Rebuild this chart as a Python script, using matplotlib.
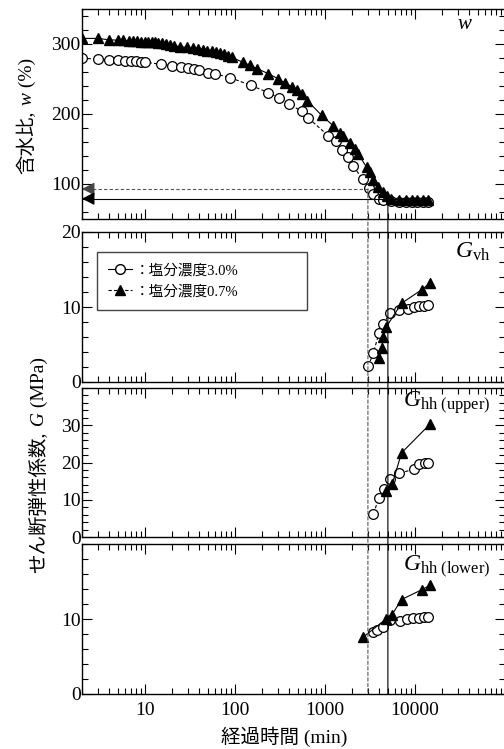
import numpy as np
import matplotlib
matplotlib.use('Agg')
import matplotlib.pyplot as plt
from matplotlib.ticker import MultipleLocator, LogLocator, NullFormatter
from matplotlib.lines import Line2D
from matplotlib.patches import ConnectionPatch

plt.rcParams['font.family'] = ['Liberation Serif', 'Noto Sans CJK JP']
plt.rcParams['mathtext.fontset'] = 'custom'
plt.rcParams['mathtext.rm'] = 'Liberation Serif'
plt.rcParams['mathtext.it'] = 'Liberation Serif:italic'
plt.rcParams['font.size'] = 14

# water content, salt 3.0 % (open circles)
t_w30 = [2, 3, 4, 5, 6, 7, 8, 9, 10, 15, 20, 25, 30, 35, 40, 50, 60,
         88, 150, 235, 312, 402, 550, 650,
         1090, 1320, 1560, 1790, 2060, 2620, 3080, 3390, 3980, 4440,
         5370, 6690, 7940, 9190, 10440, 12200, 14070]
w30 = [280, 278, 277.5, 276.5, 276, 275.5, 275, 274.5, 274,
       271, 269, 267, 265.5, 264, 262.5, 259, 257.5,
       252, 241, 230.5, 222.5, 214, 204, 194.5,
       169, 162, 149, 138, 126, 106.5, 94.5, 85.5, 78.5, 77,
       75.5, 74.5, 74.5, 74.5, 74.5, 74.5, 74.5]

# water content, salt 0.7 % (filled triangles)
t_w07 = [2, 3, 4, 5, 5.7, 6.6, 7.4, 8.2, 9, 10,
         10.9, 11.9, 12.9, 14, 15.3, 17.1, 18.9, 21,
         24.5, 29, 34, 39, 44, 49, 55, 61, 68, 75, 84, 92,
         122, 147, 177, 234, 298, 359, 427, 485, 551, 638,
         920, 1240, 1460, 1590, 1890, 2150, 2340, 2900, 3160, 3440, 3910, 4440, 4850,
         5400, 6700, 8000, 9200, 10500, 12200, 14000]
w07 = [308, 308, 306, 305.5, 305, 304.5, 304, 303.7, 303.5, 303.2,
       303, 302.8, 302.3, 301.8, 301.4, 300, 298.6, 297.2,
       296.2, 295.2, 294.4, 293.4, 292, 290.6, 289.6, 288.2, 286.8, 285, 282.5, 281,
       274, 269.4, 264.8, 257.7, 250.7, 244.5, 238.9, 234.2, 228, 219,
       198, 183, 173, 168, 159, 150, 143, 124, 117, 105, 96, 88, 83,
       78, 77.5, 77.5, 77, 77, 77, 77.5]

# end of consolidation (time, w)
t_end30, w_end30 = 3000, 93
t_end07, w_end07 = 5000, 79

# Gvh
t_gvh30 = [3030, 3450, 3980, 4440, 5270, 6690, 8440, 9750, 11150, 12590, 14070]
gvh30 = [2.1, 3.9, 6.5, 7.7, 9.2, 9.6, 9.8, 10.0, 10.1, 10.2, 10.3]
t_gvh07 = [4010, 4270, 4440, 4770, 7100, 11880, 14680]
gvh07 = [3.2, 4.5, 6.0, 7.3, 10.5, 12.3, 13.2]

# Ghh (upper)
t_ghu30 = [3450, 4010, 4570, 5270, 6690, 9750, 11150, 12900, 14070]
ghu30 = [6.3, 10.6, 13.0, 15.6, 17.1, 18.2, 19.6, 19.8, 19.8]
t_ghu07 = [4770, 5570, 7100, 14680]
ghu07 = [12.3, 14.1, 22.6, 30.3]

# Ghh (lower)
t_ghl30 = [3390, 3830, 4440, 5270, 6810, 8200, 9550, 11150, 12590, 14070]
ghl30 = [8.3, 8.6, 8.9, 9.9, 9.8, 10.0, 10.1, 10.2, 10.3, 10.3]
t_ghl07 = [2670, 4770, 5570, 7100, 11880, 14680]
ghl07 = [7.6, 10.0, 10.6, 12.6, 13.9, 14.5]

W, H = 504, 749
fig = plt.figure(figsize=(W / 100, H / 100), dpi=100)


def pos(top, bot):
    return [82 / W, 1 - bot / H, 423 / W, (bot - top) / H]


ax1 = fig.add_axes(pos(9, 219))
ax2 = fig.add_axes(pos(232, 382))
ax3 = fig.add_axes(pos(388, 537))
ax4 = fig.add_axes(pos(544, 694))
axes = [ax1, ax2, ax3, ax4]

DASH = (0, (3, 2))
circ = dict(color='k', lw=0.8, ls=DASH, marker='o', ms=7, mfc='white', mec='k', mew=0.9)
tri = dict(color='k', lw=0.8, ls='-', marker='^', ms=6.5, mfc='k', mec='k')

ax1.plot(t_w30, w30, **circ)
ax1.plot(t_w07, w07, **tri)
ax2.plot(t_gvh30, gvh30, **circ)
ax2.plot(t_gvh07, gvh07, **tri)
ax3.plot(t_ghu30, ghu30, **circ)
ax3.plot(t_ghu07, ghu07, **tri)
ax4.plot(t_ghl30, ghl30, **circ)
ax4.plot(t_ghl07, ghl07, **tri)

for ax in axes:
    ax.set_xscale('log')
    ax.set_xlim(2, 1e5)
    ax.xaxis.set_major_locator(LogLocator(base=10, numticks=10))
    ax.xaxis.set_minor_locator(LogLocator(base=10, subs=np.arange(2, 10), numticks=20))
    ax.xaxis.set_minor_formatter(NullFormatter())
    ax.tick_params(which='both', direction='in', top=True, right=True, width=0.8,
                   labelbottom=False, labelsize=14)
    ax.tick_params(which='major', length=7)
    ax.tick_params(which='minor', length=4)
    ax.tick_params(axis='y', pad=1)
    for s in ax.spines.values():
        s.set_linewidth(1.0)

ax4.set_xticks([10, 100, 1000, 10000], ['10', '100', '1000', '10000'])
ax4.tick_params(axis='x', labelbottom=True, pad=6)

ax1.set_ylim(50, 350)
ax1.set_yticks([100, 200, 300])
ax1.yaxis.set_minor_locator(MultipleLocator(20))
ax2.set_ylim(0, 20)
ax2.set_yticks([0, 10, 20])
ax3.set_ylim(0, 40)
ax3.set_yticks([0, 10, 20, 30])
ax4.set_ylim(0, 20)
ax4.set_yticks([0, 10])
for ax in axes[1:]:
    ax.yaxis.set_minor_locator(MultipleLocator(2))

# end-of-consolidation guide lines
ax1.plot([t_end30, 2], [w_end30, w_end30], color='#555555', lw=0.8, ls=DASH)
ax1.plot([t_end07, 2], [w_end07, w_end07], color='k', lw=0.8)
for w_e, c in [(w_end30, '#444444'), (w_end07, 'k')]:
    ax1.annotate('', xy=(2, w_e), xytext=(2.6, w_e),
                 arrowprops=dict(arrowstyle='-|>,head_length=0.55,head_width=0.28',
                                 color=c, lw=0.8, mutation_scale=14, shrinkA=0, shrinkB=0))
fig.add_artist(ConnectionPatch(xyA=(t_end30, w_end30), coordsA=ax1.transData,
                               xyB=(t_end30, 0), coordsB=ax4.transData,
                               color='#555555', lw=0.8, ls=DASH))
fig.add_artist(ConnectionPatch(xyA=(t_end07, w_end07), coordsA=ax1.transData,
                               xyB=(t_end07, 0), coordsB=ax4.transData,
                               color='k', lw=0.8))

# panel names
ax1.text(0.924, 0.924, r'$w$', transform=ax1.transAxes, ha='right', va='center', fontsize=15)
ax2.text(0.965, 0.867, r'$G_{\mathrm{vh}}$', transform=ax2.transAxes, ha='right', va='center', fontsize=17)
ax3.text(0.965, 0.9, r'$G_{\mathrm{hh\ (upper)}}$', transform=ax3.transAxes, ha='right', va='center', fontsize=17)
ax4.text(0.965, 0.847, r'$G_{\mathrm{hh\ (lower)}}$', transform=ax4.transAxes, ha='right', va='center', fontsize=17)

# legend
h1 = Line2D([], [], color='k', lw=0.8, ls='-', marker='o', ms=7, mfc='white', mec='k')
h2 = Line2D([], [], color='k', lw=0.8, ls=DASH, marker='^', ms=7, mfc='k', mec='k')
leg = ax2.legend([h1, h2], ['：塩分濃度3.0%', '：塩分濃度0.7%'], loc='upper left',
                 bbox_to_anchor=(0.035, 0.44, 0.497, 0.427), mode='expand', borderaxespad=0,
                 fontsize=10.5, handlelength=1.6, handletextpad=0.2, borderpad=0.8,
                 labelspacing=0.5, fancybox=False, framealpha=1, numpoints=1)
leg.get_frame().set_edgecolor('#444444')
leg.get_frame().set_linewidth(1.0)

# labels
fig.text(284 / W, 1 - 737 / H, '経過時間 (min)', ha='center', va='center', fontsize=14)


def vtext(xpx, ycpx, parts, size=14):
    r = fig.canvas.get_renderer()

    def adv(s, st):
        a = fig.text(0, 0, s + '|', fontsize=size, style=st)
        b = fig.text(0, 0, '|', fontsize=size, style=st)
        w = a.get_window_extent(r).width - b.get_window_extent(r).width
        a.remove()
        b.remove()
        return w

    widths = [adv(s, st) for s, st in parts]
    y = (H - ycpx) - sum(widths) / 2
    for (s, st), w in zip(parts, widths):
        fig.text(xpx / W, y / H, s, fontsize=size, style=st, rotation=90,
                 rotation_mode='anchor', ha='left', va='baseline')
        y += w


vtext(32, 116, [('含水比,', 'normal'), (' w', 'italic'), (' (%)', 'normal')])
vtext(44, 465, [('せん断弾性係数,', 'normal'), (' G', 'italic'), (' (MPa)', 'normal')])

fig.savefig('out.png', dpi=100)
